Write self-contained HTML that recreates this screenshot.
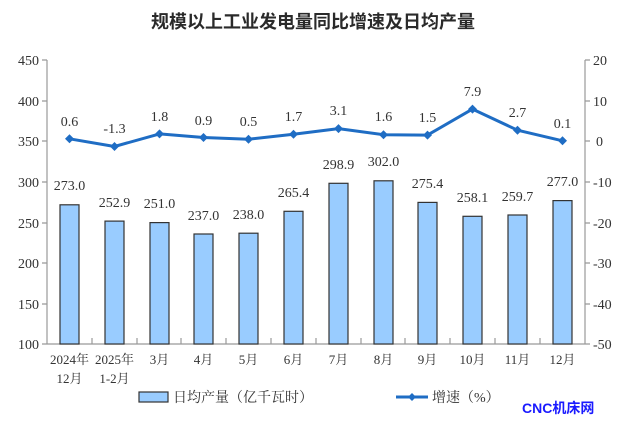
<!DOCTYPE html>
<html><head><meta charset="utf-8"><style>
html,body{margin:0;padding:0;background:#fff;}
svg{display:block;}
.s{font-family:"Liberation Serif","Noto Serif CJK SC",serif;fill:#333;}
</style></head><body>
<svg width="627" height="436" viewBox="0 0 627 436" xmlns="http://www.w3.org/2000/svg">
<text x="313" y="28" text-anchor="middle" font-family="'Liberation Sans','Noto Sans CJK SC',sans-serif" font-size="18" font-weight="bold" fill="#2a2a2a">规模以上工业发电量同比增速及日均产量</text>
<g stroke="#999" stroke-width="1.2" fill="none">
<line x1="47" y1="60" x2="47" y2="344"/>
<line x1="585" y1="60" x2="585" y2="344"/>
<line x1="47" y1="344" x2="585" y2="344"/>
<path d="M42 60H47M42 101H47M42 141H47M42 182H47M42 223H47M42 263H47M42 304H47M42 344H47"/>
<path d="M585 60H590M585 101H590M585 141H590M585 182H590M585 223H590M585 263H590M585 304H590M585 344H590"/>
<path d="M92 344V338M137 344V338M181 344V338M226 344V338M271 344V338M316 344V338M361 344V338M405 344V338M450 344V338M495 344V338M540 344V338"/>
</g>
<g class="s" font-size="14" text-anchor="end">
<text x="39" y="65">450</text><text x="39" y="106">400</text><text x="39" y="146">350</text><text x="39" y="187">300</text><text x="39" y="228">250</text><text x="39" y="268">200</text><text x="39" y="309">150</text><text x="39" y="349">100</text>
</g>
<g class="s" font-size="14" text-anchor="start">
<text x="593" y="65">20</text><text x="593" y="106">10</text><text x="596" y="146">0</text><text x="593" y="187">-10</text><text x="593" y="228">-20</text><text x="593" y="268">-30</text><text x="593" y="309">-40</text><text x="593" y="349">-50</text>
</g>
<g fill="#99ccff" stroke="#333" stroke-width="1.2">
<rect x="60" y="204.8" width="19" height="139.2"/>
<rect x="105" y="221.1" width="19" height="122.9"/>
<rect x="150" y="222.6" width="19" height="121.4"/>
<rect x="194" y="234" width="19" height="110"/>
<rect x="239" y="233.2" width="19" height="110.8"/>
<rect x="284" y="211.3" width="19" height="132.7"/>
<rect x="329" y="183.3" width="19" height="160.7"/>
<rect x="374" y="180.8" width="19" height="163.2"/>
<rect x="418" y="202.4" width="19" height="141.6"/>
<rect x="463" y="216.3" width="19" height="127.7"/>
<rect x="508" y="215" width="19" height="129"/>
<rect x="553" y="200.6" width="19" height="143.4"/>
</g>
<g class="s" font-size="14" text-anchor="middle">
<text x="69.5" y="190">273.0</text><text x="114.5" y="207">252.9</text><text x="159.5" y="208">251.0</text><text x="203.5" y="220">237.0</text><text x="248.5" y="219">238.0</text><text x="293.5" y="197">265.4</text><text x="338.5" y="169">298.9</text><text x="383.5" y="166">302.0</text><text x="427.5" y="188">275.4</text><text x="472.5" y="202">258.1</text><text x="517.5" y="201">259.7</text><text x="562.5" y="186">277.0</text>
</g>
<polyline fill="none" stroke="#1f6dc4" stroke-width="3" stroke-linejoin="round" points="69.5,138.8 114.5,146.5 159.5,133.9 203.5,137.5 248.5,139.2 293.5,134.3 338.5,128.6 383.5,134.7 427.5,135.1 472.5,109.1 517.5,130.2 562.5,140.8"/>
<g fill="#1f6dc4">
<path d="M69.5 134.3l4.5 4.5-4.5 4.5-4.5-4.5z"/><path d="M114.5 142l4.5 4.5-4.5 4.5-4.5-4.5z"/><path d="M159.5 129.4l4.5 4.5-4.5 4.5-4.5-4.5z"/><path d="M203.5 133l4.5 4.5-4.5 4.5-4.5-4.5z"/><path d="M248.5 134.7l4.5 4.5-4.5 4.5-4.5-4.5z"/><path d="M293.5 129.8l4.5 4.5-4.5 4.5-4.5-4.5z"/><path d="M338.5 124.1l4.5 4.5-4.5 4.5-4.5-4.5z"/><path d="M383.5 130.2l4.5 4.5-4.5 4.5-4.5-4.5z"/><path d="M427.5 130.6l4.5 4.5-4.5 4.5-4.5-4.5z"/><path d="M472.5 104.6l4.5 4.5-4.5 4.5-4.5-4.5z"/><path d="M517.5 125.7l4.5 4.5-4.5 4.5-4.5-4.5z"/><path d="M562.5 136.3l4.5 4.5-4.5 4.5-4.5-4.5z"/>
</g>
<g class="s" font-size="14" text-anchor="middle">
<text x="69.5" y="126">0.6</text><text x="114.5" y="133">-1.3</text><text x="159.5" y="121">1.8</text><text x="203.5" y="125">0.9</text><text x="248.5" y="126">0.5</text><text x="293.5" y="121">1.7</text><text x="338.5" y="115">3.1</text><text x="383.5" y="121">1.6</text><text x="427.5" y="122">1.5</text><text x="472.5" y="96">7.9</text><text x="517.5" y="117">2.7</text><text x="562.5" y="128">0.1</text>
</g>
<g class="s" font-size="13" text-anchor="middle">
<text x="69.5" y="364">2024年</text><text x="69.5" y="383">12月</text>
<text x="114.5" y="364">2025年</text><text x="114.5" y="383">1-2月</text>
<text x="159.5" y="364">3月</text><text x="203.5" y="364">4月</text><text x="248.5" y="364">5月</text><text x="293.5" y="364">6月</text><text x="338.5" y="364">7月</text><text x="383.5" y="364">8月</text><text x="427.5" y="364">9月</text><text x="472.5" y="364">10月</text><text x="517.5" y="364">11月</text><text x="562.5" y="364">12月</text>
</g>
<rect x="139" y="392" width="29" height="10" fill="#99ccff" stroke="#333" stroke-width="1.2"/>
<text class="s" x="173" y="402" font-size="14">日均产量（亿千瓦时）</text>
<line x1="396" y1="397" x2="428" y2="397" stroke="#1f6dc4" stroke-width="3"/>
<path d="M412 393l4 4-4 4-4-4z" fill="#1f6dc4"/>
<text class="s" x="432" y="402" font-size="14">增速（%）</text>
<text x="522" y="413" font-family="'Liberation Sans','Noto Sans CJK SC',sans-serif" font-size="14" font-weight="bold" fill="#1a1aff">CNC机床网</text>
</svg>
</body></html>
